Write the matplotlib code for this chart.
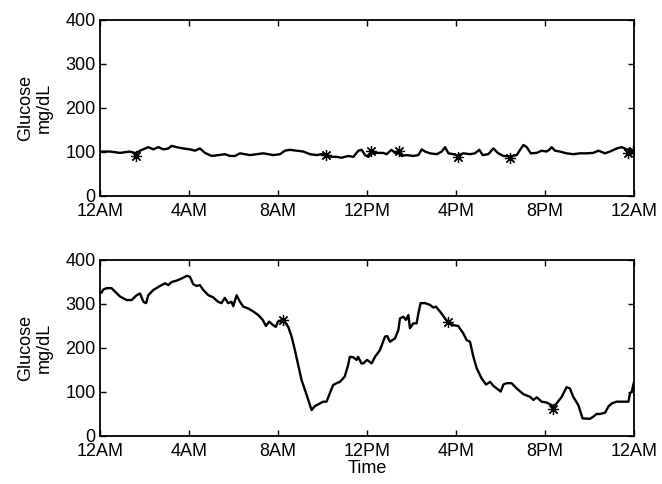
import matplotlib
matplotlib.use("Agg")
import matplotlib.pyplot as plt

plt.rcParams['font.family'] = ['Liberation Sans', 'DejaVu Sans']

tick_hours = [0, 4, 8, 12, 16, 20, 24]
tick_labels = ['12AM', '4AM', '8AM', '12PM', '4PM', '8PM', '12AM']
y_ticks = [0, 100, 200, 300, 400]

top_hours = [0.0, 0.45, 0.9, 1.35, 1.62, 1.8, 2.17, 2.4, 2.62, 2.85, 3.07, 3.22, 3.44, 3.74,
             4.04, 4.27, 4.49, 4.72, 5.02, 5.32, 5.62, 5.84, 6.07, 6.29, 6.52, 6.74, 7.04,
             7.34, 7.57, 7.79, 8.09, 8.31, 8.54, 8.84, 9.14, 9.44, 9.74, 9.96, 10.16, 10.41,
             10.64, 10.86, 11.16, 11.39, 11.61, 11.76, 11.91, 12.06, 12.21, 12.43, 12.73,
             12.88, 13.1, 13.26, 13.44, 13.56, 13.78, 14.08, 14.31, 14.46, 14.61, 14.83,
             15.13, 15.36, 15.51, 15.66, 15.88, 16.07, 16.33, 16.63, 16.85, 17.05, 17.2,
             17.45, 17.68, 17.9, 18.13, 18.43, 18.73, 18.88, 19.03, 19.18, 19.36, 19.63,
             19.85, 20.07, 20.19, 20.3, 20.45, 20.67, 20.97, 21.27, 21.57, 21.87, 22.17,
             22.4, 22.7, 22.92, 23.22, 23.45, 23.67, 23.9, 24.0]
top_glucose = [101, 101, 98, 101, 97, 103, 111, 106, 111, 106, 108, 114, 111, 108,
               106, 103, 108, 98, 91, 93, 95, 91, 91, 97, 95, 93, 95,
               97, 95, 93, 95, 103, 105, 103, 101, 95, 93, 95, 93, 89,
               89, 87, 91, 89, 103, 105, 93, 89, 97, 98, 98,
               95, 105, 98, 97, 91, 93, 91, 93, 106, 101, 97,
               95, 101, 111, 97, 95, 92, 97, 95, 97, 105, 93,
               95, 108, 97, 91, 90, 93, 105, 116, 111, 97, 98,
               103, 101, 105, 111, 103, 101, 97, 95, 97, 97, 98,
               103, 97, 101, 108, 111, 106, 103, 103]
top_star_hours = [1.62, 10.16, 12.18, 13.44, 16.07, 18.43, 23.75, 23.97]
top_star_glucose = [91, 93, 103, 103, 88, 86, 97, 103]

bot_hours = [0.07, 0.15, 0.3, 0.52, 0.9, 1.2, 1.42, 1.65, 1.8, 1.95, 2.07, 2.17, 2.4, 2.7,
             2.92, 3.07, 3.22, 3.44, 3.67, 3.9, 4.04, 4.19, 4.34, 4.49, 4.64, 4.87, 5.09,
             5.31, 5.46, 5.61, 5.76, 5.91, 5.99, 6.14, 6.29, 6.44, 6.66, 6.89, 7.11, 7.31,
             7.46, 7.6, 7.78, 7.9, 8.0, 8.23, 8.46, 8.61, 8.76, 8.91, 9.06, 9.21, 9.36,
             9.51, 9.66, 9.81, 10.03, 10.18, 10.33, 10.48, 10.63, 10.78, 11.0, 11.15,
             11.23, 11.38, 11.53, 11.6, 11.75, 11.84, 12.0, 12.21, 12.36, 12.58, 12.81,
             12.91, 13.03, 13.26, 13.41, 13.48, 13.63, 13.75, 13.86, 13.93, 14.08, 14.23,
             14.31, 14.41, 14.61, 14.83, 14.98, 15.1, 15.28, 15.51, 15.66, 15.88, 16.1,
             16.33, 16.48, 16.63, 16.78, 16.93, 17.15, 17.35, 17.53, 17.68, 17.83, 18.01,
             18.13, 18.28, 18.5, 18.73, 19.03, 19.33, 19.48, 19.63, 19.85, 20.08, 20.3,
             20.34, 20.52, 20.75, 20.97, 21.12, 21.27, 21.5, 21.69, 22.02, 22.17, 22.32,
             22.47, 22.7, 22.85, 23.0, 23.22, 23.52, 23.75, 23.82, 23.9, 24.0]
bot_glucose = [326, 333, 336, 336, 317, 309, 309, 320, 324, 305, 302, 320, 332, 341,
               347, 343, 350, 353, 358, 364, 362, 345, 341, 343, 332, 320, 315,
               305, 302, 314, 302, 305, 295, 320, 305, 294, 290, 283, 275, 264,
               250, 260, 252, 248, 260, 264, 248, 226, 195, 161, 127, 105, 82,
               59, 68, 72, 78, 78, 97, 116, 120, 123, 135, 161,
               180, 179, 173, 180, 165, 165, 173, 165, 180, 195, 226,
               227, 214, 222, 241, 267, 271, 264, 275, 245, 256, 256,
               279, 302, 302, 298, 292, 294, 283, 267, 258, 252, 250,
               233, 218, 214, 180, 154, 131, 117, 123, 114, 108, 101,
               117, 120, 120, 108, 95, 89, 82, 88, 78, 76, 70,
               63, 74, 89, 111, 108, 89, 70, 40, 39, 44, 50,
               50, 53, 67, 74, 78, 78, 78, 97, 101, 123]
bot_star_hours = [8.23, 15.66, 20.34]
bot_star_glucose = [264, 258, 61]

fig = plt.figure(figsize=(6.62, 4.84), dpi=100)
ax1 = fig.add_axes([100/662, 1-196/484, 534/662, 176/484])
ax2 = fig.add_axes([100/662, 1-436/484, 534/662, 176/484])

asterisk = (8, 2, 0)
for ax, hx, gy, sx, sy in [(ax1, top_hours, top_glucose, top_star_hours, top_star_glucose),
                           (ax2, bot_hours, bot_glucose, bot_star_hours, bot_star_glucose)]:
    ax.plot(hx, gy, color='black', lw=1.7)
    ax.plot(sx, sy, linestyle='none', marker=asterisk, markersize=8,
            markeredgecolor='black', markeredgewidth=0.9, color='black')
    ax.set_xlim(0, 24)
    ax.set_ylim(0, 400)
    ax.set_xticks(tick_hours)
    ax.set_xticklabels(tick_labels)
    ax.set_yticks(y_ticks)
    ax.tick_params(direction='in', top=True, right=True, length=4, width=1.0,
                   labelsize=13)
    ax.tick_params(axis='x', pad=5)
    ax.tick_params(axis='y', pad=3)
    for s in ax.spines.values():
        s.set_linewidth(1.3)
    ax.set_ylabel('Glucose\nmg/dL', fontsize=13, linespacing=1.15, labelpad=9)

ax2.set_xlabel('Time', fontsize=13, labelpad=0)

fig.savefig('out.png', dpi=100)
